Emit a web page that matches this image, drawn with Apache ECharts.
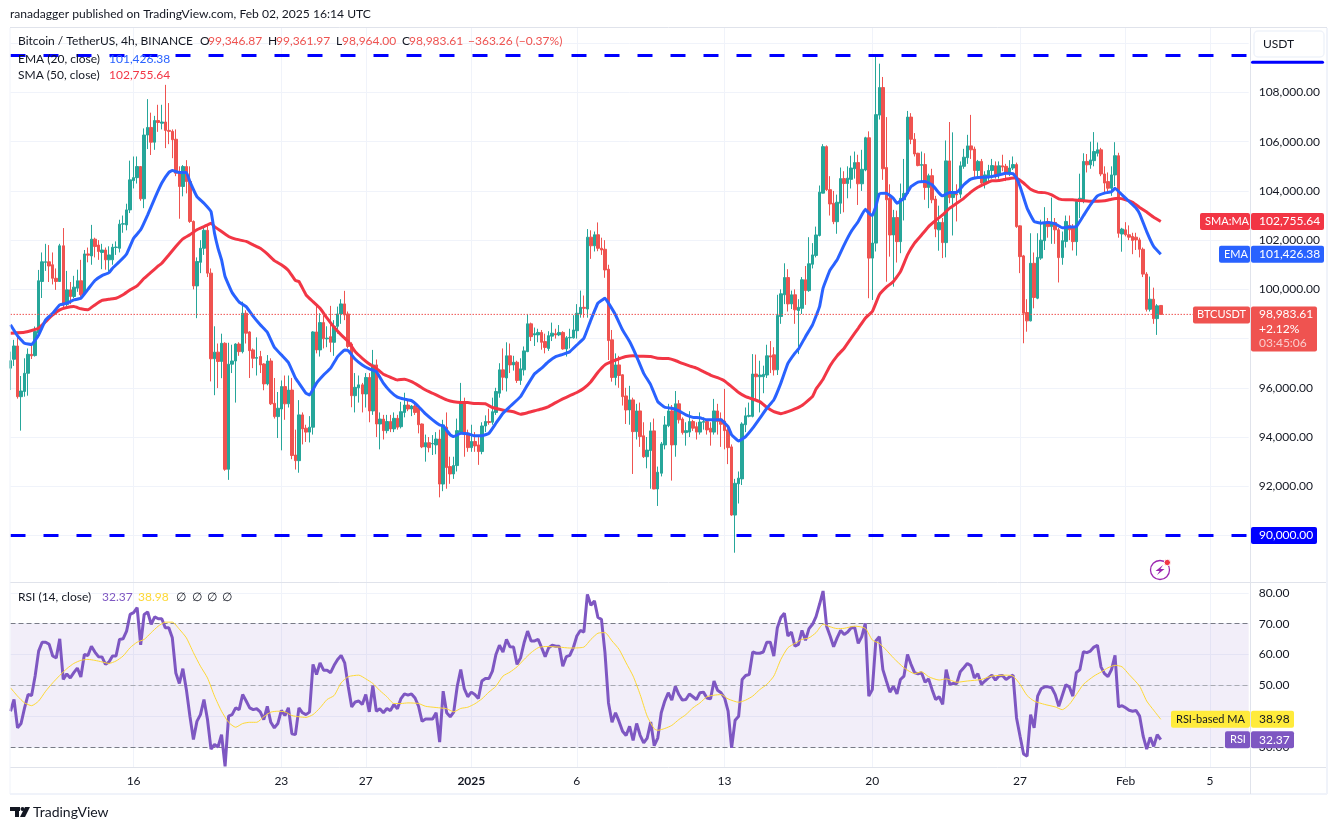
<!DOCTYPE html>
<html lang="en">
  <head>
    <meta charset="utf-8">
    <title>BTCUSDT 4h</title>
    <script src="https://cdn.jsdelivr.net/npm/echarts@6/dist/echarts.min.js"></script>
    <style>
      html, body { margin: 0; padding: 0; background: #fff; }
      #chart { width: 1338px; height: 830px; }
    </style>
    <script>
      // open, close, low, high in thousands, one row per 4h candle from Dec 10 04:00
      var raw = [
        [96.8,97.1,95.91,97.47],[97.16,97.7,96.89,97.95],[97.7,95.64,95.56,98.24],[95.64,95.87,94.26,96.48],[95.85,96.59,95.64,97.2],
        [96.59,97.36,95.68,97.6],[97.36,97.3,97.17,97.81],[97.31,98.29,97.27,98.49],[98.22,100.35,98.05,100.79],[100.32,101.12,99.65,101.5],
        [101.1,101.12,100.75,101.85],[101.12,100.95,100.3,101.8],[101.0,100.45,100.2,101.5],[100.45,100.32,99.98,100.85],[100.32,101.77,100.3,101.85],
        [101.77,99.37,99.25,102.49],[99.39,99.98,99.3,100.75],[99.98,99.71,99.4,100.3],[99.71,100.09,99.65,100.55],[100.05,100.35,99.9,100.8],
        [100.35,99.78,99.7,101.2],[99.85,101.44,99.8,101.6],[101.44,101.39,101.1,101.7],[101.36,102.04,101.0,102.62],[102.04,101.74,101.3,102.1],
        [101.8,101.54,101.2,102.0],[101.5,101.6,100.82,101.85],[101.6,101.2,100.8,101.7],[101.2,101.4,100.62,101.75],[101.2,101.71,101.0,101.85],
        [101.7,101.72,101.4,101.95],[101.67,102.65,101.5,102.83],[102.65,102.67,102.3,103.0],[102.62,103.23,102.4,103.48],[103.23,104.45,103.1,105.23],
        [104.42,104.54,104.1,105.4],[104.54,104.99,104.3,105.4],[104.99,103.68,103.6,105.0],[103.68,106.27,103.3,106.54],[106.27,106.58,105.7,107.73],
        [106.58,105.98,105.46,107.18],[105.98,106.86,105.67,107.05],[106.86,106.78,106.4,107.5],[106.75,106.8,106.5,107.5],[106.8,106.46,105.74,108.31],
        [106.46,106.42,105.9,107.57],[106.42,106.08,105.33,106.5],[106.1,104.72,104.6,106.5],[104.72,104.18,102.87,105.0],[104.18,104.99,103.78,105.05],
        [104.99,104.38,103.9,105.25],[104.38,102.76,102.7,105.0],[102.76,100.14,100.0,102.8],[100.14,101.13,98.83,101.3],[101.1,101.67,100.66,102.0],
        [101.67,102.4,101.4,102.55],[102.4,100.66,100.5,102.6],[100.66,97.18,96.26,100.85],[97.18,97.45,95.7,98.5],[97.45,97.07,95.99,97.8],
        [97.07,97.81,96.39,98.2],[97.81,92.69,92.63,97.85],[92.69,96.96,92.26,97.83],[96.96,97.09,96.6,97.75],[97.09,97.78,95.4,97.81],
        [97.78,97.47,97.3,97.85],[97.47,99.03,97.4,99.5],[99.03,98.22,97.8,99.15],[98.27,97.51,96.4,98.3],[97.54,97.2,96.8,97.6],
        [97.2,97.23,96.5,98.05],[97.27,96.93,96.6,97.5],[96.97,96.16,95.9,97.0],[96.16,97.09,96.1,97.33],[97.09,95.35,95.3,97.2],
        [95.37,94.83,94.75,96.4],[94.83,95.17,93.96,95.83],[95.14,96.05,93.46,96.3],[96.05,95.35,94.7,96.5],[95.35,95.91,95.2,96.5],
        [95.91,93.25,93.1,96.4],[93.27,93.04,92.68,94.3],[93.04,94.9,92.55,95.5],[94.9,94.33,93.7,95.0],[94.36,94.2,93.8,94.5],
        [94.2,94.4,93.78,94.85],[94.4,98.27,94.1,98.3],[98.27,97.54,97.4,99.41],[97.54,98.65,97.27,99.03],[98.65,97.99,97.6,98.95],
        [97.99,98.02,97.65,98.5],[98.08,97.85,97.45,99.33],[97.85,98.5,97.3,98.75],[98.5,99.0,98.2,99.3],[99.0,99.41,98.6,99.6],
        [99.41,98.96,98.75,99.94],[99.0,97.68,97.6,99.1],[97.78,95.68,95.21,97.85],[95.68,96.02,95.0,96.6],[96.0,96.12,95.4,96.5],
        [96.12,95.75,95.0,96.2],[95.75,96.42,95.2,96.6],[96.42,95.06,94.6,96.6],[95.06,96.93,94.9,97.54],[96.93,94.53,94.0,97.15],
        [94.53,94.73,93.5,95.0],[94.73,94.26,93.9,94.9],[94.26,94.63,94.15,94.9],[94.63,94.33,94.2,94.9],[94.33,94.76,94.2,95.0],
        [94.76,94.4,94.3,94.9],[94.42,95.03,94.35,95.43],[95.0,95.3,94.8,95.8],[95.3,95.14,95.05,95.5],[95.14,95.26,94.85,95.3],
        [95.26,95.0,94.9,95.35],[95.2,94.5,94.15,95.3],[94.53,93.6,93.55,94.55],[93.6,93.77,93.0,94.1],[93.77,93.57,93.38,94.0],
        [93.72,93.74,93.27,94.08],[93.68,93.92,93.3,94.2],[93.92,92.09,91.55,94.3],[92.09,94.49,91.8,94.7],[94.4,92.76,91.9,95.0],
        [92.8,92.5,92.1,93.2],[92.5,92.84,92.3,93.2],[92.84,94.26,92.6,94.75],[94.2,95.44,94.1,96.2],[95.44,94.15,93.2,95.6],
        [94.15,93.57,93.4,94.3],[93.57,93.82,93.4,94.5],[93.82,93.64,93.4,94.2],[93.68,93.41,92.87,94.0],[93.41,94.45,93.3,94.6],
        [94.45,94.63,94.2,94.88],[94.63,94.59,94.5,95.15],[94.6,95.03,94.5,95.6],[95.0,95.85,94.9,96.0],[95.78,96.73,95.6,97.0],
        [96.73,96.43,95.9,97.6],[96.4,97.3,95.85,97.85],[97.3,96.93,96.6,97.8],[96.93,97.04,96.7,97.3],[97.04,96.3,96.2,97.1],
        [96.3,96.77,96.12,97.2],[96.73,97.5,96.5,97.68],[97.47,98.6,97.45,99.0],[98.6,98.08,97.9,98.65],[98.15,98.2,97.7,98.45],
        [98.15,98.25,97.85,98.4],[98.25,97.85,97.55,98.35],[97.88,97.64,97.4,98.2],[97.6,98.12,97.5,98.3],[98.1,98.22,97.9,98.65],
        [98.2,98.15,98.0,98.4],[98.15,98.25,98.1,98.55],[98.25,97.58,97.55,98.3],[97.58,98.03,97.27,98.1],[98.03,98.05,97.6,98.4],
        [98.03,98.35,98.0,98.95],[98.32,99.03,98.0,99.4],[99.0,99.27,98.85,99.95],[99.27,99.23,98.85,99.75],[99.2,102.12,98.85,102.45],
        [102.12,101.77,101.24,102.4],[101.77,102.22,101.54,102.35],[102.22,101.67,101.55,102.72],[101.67,101.6,101.4,102.1],[101.63,100.79,100.47,102.0],
        [100.82,97.92,97.13,101.0],[97.95,96.42,96.25,98.35],[96.42,96.93,96.1,97.4],[96.93,96.5,96.0,97.3],[96.53,95.64,95.28,96.55],
        [95.67,95.1,94.53,96.0],[95.1,95.51,94.5,96.08],[95.51,94.22,92.5,95.6],[94.22,95.06,93.9,95.35],[95.06,94.02,93.6,95.4],
        [94.05,93.2,93.15,94.6],[93.2,93.47,92.73,94.0],[93.45,94.25,91.9,94.6],[94.25,91.89,91.88,94.75],[91.89,92.57,91.2,92.8],
        [92.53,93.72,92.4,93.8],[93.68,94.49,93.5,94.85],[94.46,95.06,94.4,95.35],[95.06,93.68,92.23,95.3],[93.68,95.35,93.2,95.87],
        [95.35,94.7,94.55,95.5],[94.73,94.18,94.1,94.8],[94.18,94.26,93.65,94.6],[94.2,94.63,94.0,95.05],[94.63,94.36,94.25,94.7],
        [94.42,94.2,93.9,94.6],[94.2,94.61,94.1,95.0],[94.6,94.63,94.3,94.8],[94.63,94.29,94.1,94.65],[94.36,94.2,93.65,94.6],
        [94.2,95.06,94.1,95.55],[95.06,94.63,94.1,95.35],[94.73,94.52,93.6,95.0],[94.65,94.26,93.5,95.96],[94.29,93.57,92.9,94.4],
        [93.6,90.83,90.8,93.7],[90.83,92.12,89.3,92.3],[92.1,92.33,91.3,92.6],[92.3,94.53,92.05,94.6],[94.5,94.86,94.2,95.2],
        [94.84,94.88,94.8,95.4],[94.84,96.56,94.8,97.37],[96.56,96.45,95.5,97.35],[96.45,96.52,95.0,97.1],[96.45,96.55,95.78,96.9],
        [96.52,97.3,96.4,97.75],[97.3,97.25,96.6,97.9],[97.34,96.73,96.5,97.65],[96.73,98.94,96.52,99.78],[98.9,99.82,98.6,100.0],
        [99.78,100.48,99.4,101.06],[100.48,99.41,99.1,100.82],[99.41,99.78,99.2,99.95],[99.78,99.17,98.6,100.0],[99.14,99.27,97.37,99.6],
        [99.23,100.39,99.0,100.5],[100.39,99.95,99.37,100.95],[99.95,101.04,99.9,102.12],[101.02,101.4,100.85,101.88],[101.38,102.21,101.3,102.55],
        [102.19,103.95,102.15,104.22],[103.91,105.8,103.9,105.9],[105.8,104.05,104.0,105.85],[104.05,103.47,103.0,104.6],[103.5,102.75,102.65,104.0],
        [102.75,103.54,102.26,103.85],[103.5,104.5,103.07,104.95],[104.5,104.3,103.13,104.8],[104.3,104.52,103.7,105.0],[104.47,104.93,104.1,105.43],
        [104.9,105.15,104.5,105.6],[105.15,104.29,103.43,105.47],[104.29,104.88,104.0,105.67],[104.85,106.16,104.8,106.2],[106.16,101.27,99.64,106.42],
        [101.27,101.88,99.57,103.0],[101.88,107.1,101.54,109.53],[107.08,108.2,106.9,109.17],[108.2,104.9,104.45,108.63],[104.95,103.64,100.31,107.0],
        [103.7,102.21,101.33,104.27],[102.21,102.92,100.11,103.23],[102.92,101.94,101.09,103.2],[101.94,103.7,101.47,104.3],[103.64,103.9,102.8,105.3],
        [103.9,107.0,103.85,107.25],[107.0,106.1,105.9,107.16],[106.1,105.5,105.4,106.35],[105.53,105.03,105.0,105.55],[105.04,105.07,104.4,105.6],
        [105.07,104.14,103.64,105.53],[104.14,104.62,103.3,104.7],[104.62,103.64,103.5,104.9],[103.67,102.45,102.12,103.8],[102.42,102.72,101.57,103.4],
        [102.72,101.9,101.27,102.9],[101.9,105.22,101.3,106.05],[105.22,103.73,103.5,106.8],[103.73,103.9,102.19,106.38],[103.88,103.84,102.76,104.27],
        [103.87,105.02,103.7,105.2],[105.0,105.37,104.9,105.71],[105.35,105.83,105.1,106.28],[105.83,105.67,105.3,107.09],[105.7,104.83,104.5,105.8],
        [104.83,105.2,104.5,105.26],[105.2,104.32,104.2,105.3],[104.3,104.65,104.1,104.8],[104.6,104.83,104.4,105.06],[104.83,105.03,104.5,105.3],
        [105.02,104.65,104.5,105.2],[104.65,105.02,104.5,105.2],[105.02,104.97,104.8,105.47],[105.0,104.75,104.4,105.1],[104.75,104.93,104.6,105.25],
        [104.93,105.07,104.85,105.4],[105.07,102.55,102.5,105.15],[102.58,101.33,100.66,102.6],[101.36,99.03,97.81,101.4],[99.06,98.72,98.28,99.6],
        [98.72,101.06,98.7,102.28],[101.06,99.67,99.23,101.5],[99.64,101.3,99.6,102.28],[101.27,102.0,101.2,102.83],[101.98,102.72,101.6,103.34],
        [102.75,102.55,102.1,102.9],[102.55,102.72,101.85,103.73],[102.72,102.42,101.85,102.9],[102.42,101.29,100.28,102.5],[101.29,101.98,101.0,102.35],
        [101.95,102.76,101.7,103.0],[102.6,102.42,102.0,103.0],[102.55,101.94,101.58,102.65],[101.94,103.57,101.37,103.6],[103.57,103.7,102.9,104.7],
        [103.64,105.2,103.5,105.53],[105.2,105.06,104.75,105.5],[105.06,105.26,104.9,106.0],[105.23,105.6,105.0,106.39],[105.53,105.67,105.4,105.97],
        [105.67,104.69,104.6,105.75],[104.69,104.32,103.9,105.0],[104.38,104.11,103.9,104.75],[104.11,104.65,103.8,105.0],[104.65,105.43,104.2,105.98],
        [105.43,102.28,102.1,105.55],[102.25,102.45,101.53,102.5],[102.42,102.22,102.15,102.73],[102.22,102.12,102.0,102.6],[102.15,101.99,101.43,102.3],
        [102.12,102.01,101.6,102.3],[102.01,101.63,101.3,102.1],[101.63,100.62,100.5,101.7],[100.62,99.19,99.1,100.7],[99.19,99.6,99.1,100.52],
        [99.6,98.81,98.6,100.07],[98.81,99.33,98.15,99.4],[99.347,98.984,98.964,99.362]
      ];

      var ema = [[0,98.56],[2,98.11],[4,97.81],[6,97.76],[8,98.15],[10,98.76],[12,99.03],[14,99.37],[16,99.44],[18,99.57],[20,99.64],[22,100.0],[24,100.36],[26,100.56],[28,100.68],[29,100.86],[31,101.13],[33,101.44],[35,102.08],[37,102.42],[39,103.03],[41,103.7],[43,104.32],[45,104.75],[46,104.83],[48,104.75],[50,104.75],[51,104.38],[53,103.77],[55,103.5],[56.5,103.16],[58,102.28],[59,101.67],[60,101.2],[61,100.52],[63,99.87],[65,99.48],[67,99.3],[69,98.9],[71,98.56],[73,98.26],[75,97.65],[77,97.34],[79,97.03],[81,96.4],[82,96.19],[84,95.78],[85,95.71],[87,96.19],[89,96.52],[91,96.8],[93,97.27],[95,97.54],[96,97.51],[98,97.16],[100,96.93],[102,96.77],[104,96.66],[106,96.19],[108,95.85],[110,95.62],[112,95.54],[114,95.48],[116,95.24],[118,94.94],[120,94.7],[122,94.49],[123,94.45],[125,94.09],[126,94.02],[128,94.15],[130,94.13],[132,94.05],[134,94.05],[136,94.15],[138,94.56],[140,94.97],[142,95.24],[145,95.64],[147,96.12],[149,96.57],[151,96.8],[153,97.07],[155,97.27],[157,97.36],[159,97.47],[161,97.74],[163,98.01],[165,98.76],[167,99.44],[169,99.64],[170,99.44],[172,98.96],[174,98.35],[176,97.88],[178,97.27],[180,96.59],[182,96.12],[184,95.44],[186,95.21],[188,95.17],[190,95.06],[192,94.9],[194,94.8],[196,94.78],[198,94.7],[200,94.7],[202,94.7],[204,94.42],[205,94.09],[207,93.84],[209,94.02],[211,94.36],[213,94.76],[215,95.17],[217,95.51],[219,96.19],[221,96.99],[223,97.41],[224,97.57],[226,98.08],[228,98.56],[230,99.3],[231,100.05],[233,100.79],[235,101.2],[237,101.81],[239,102.35],[241,102.76],[243,103.26],[244,103.1],[245,103.0],[246,103.37],[247,103.88],[249,103.91],[251,103.7],[252,103.5],[254,103.7],[256,104.18],[258,104.36],[260,104.38],[262,104.25],[264,103.91],[265,103.8],[267,103.94],[269,103.94],[271,104.25],[273,104.48],[275,104.55],[277,104.56],[279,104.59],[281,104.65],[283,104.72],[285,104.7],[286,104.52],[287,104.18],[289,103.3],[291,102.76],[293,102.69],[295,102.72],[297,102.66],[299,102.5],[301,102.53],[303,102.55],[305,102.99],[307,103.43],[309,103.8],[311,103.91],[313,103.97],[314,104.11],[316,103.84],[318,103.57],[320,103.3],[321,103.07],[323,102.35],[325,101.74],[327,101.426]];

      var sma = [[0,98.22],[4,98.26],[6,98.33],[8,98.42],[10,98.69],[12,98.96],[14,99.17],[16,99.26],[18,99.3],[20,99.21],[22,99.17],[24,99.37],[26,99.55],[28,99.6],[30,99.64],[32,99.78],[34,99.98],[36,100.14],[38,100.45],[40,100.7],[42,100.95],[43,101.06],[45,101.4],[47,101.74],[49,102.05],[51,102.22],[53,102.42],[55,102.55],[56.5,102.69],[58,102.55],[60,102.35],[62,102.15],[64,102.04],[67,101.95],[69,101.81],[71,101.67],[73,101.44],[75,101.17],[77,101.0],[79,100.77],[81,100.36],[82,100.32],[84,99.78],[86,99.5],[88,99.23],[90,98.83],[92,98.46],[94,98.15],[96,97.88],[98,97.47],[100,97.2],[102,96.97],[104,96.79],[106,96.55],[108,96.43],[110,96.32],[112,96.35],[114,96.25],[116,96.09],[118,95.91],[120,95.78],[122,95.64],[124,95.51],[126,95.43],[128,95.4],[130,95.4],[132,95.36],[135,95.35],[137,95.2],[139,95.13],[141,95.07],[143,95.03],[145,94.93],[147,94.99],[149,95.07],[151,95.14],[153,95.24],[155,95.4],[157,95.55],[159,95.68],[161,95.81],[163,95.98],[165,96.25],[167,96.63],[169,96.93],[171,97.07],[173,97.18],[175,97.27],[177,97.3],[179,97.28],[182,97.27],[184,97.2],[187,97.19],[189,97.11],[191,96.99],[193,96.89],[195,96.8],[197,96.66],[199,96.52],[201,96.41],[203,96.28],[205,96.05],[207,95.81],[209,95.64],[211,95.54],[213,95.44],[215,95.21],[217,95.03],[219,94.95],[221,95.03],[223,95.14],[225,95.28],[227.5,95.65],[229,95.95],[231,96.35],[233,96.9],[235,97.3],[237,97.61],[239,98.02],[241,98.42],[243,98.83],[245,99.1],[247,99.78],[249,100.09],[251,100.32],[253,100.72],[255,101.4],[257,101.88],[259,102.21],[261,102.55],[263,102.8],[265,103.03],[267,103.3],[269,103.5],[271,103.7],[273,103.95],[275,104.15],[277,104.29],[279,104.41],[281,104.42],[283,104.48],[285,104.53],[286,104.52],[288,104.32],[290,104.07],[292,103.95],[294,103.93],[296,103.84],[298,103.68],[300,103.64],[302,103.64],[304,103.61],[307,103.58],[311,103.6],[313,103.66],[315,103.7],[317,103.64],[319,103.54],[321,103.33],[323,103.14],[325,102.93],[327,102.756]];

      var rsi = [41.6,45.4,36.2,37.6,42.7,47,46.7,53,61.1,64,64,63.3,59.5,58.9,65.1,51.9,53.7,52.4,54.1,55.6,52.7,60,59.7,62.7,60.8,59.3,59.2,56.8,57.6,59.5,59.5,64.9,65.1,67.6,73,73.6,75.2,63.1,73,73.8,69.8,72.2,71.6,71.6,68.7,68.7,65.4,54,50.6,55.4,48.6,40,32.4,38.3,40.5,45.4,38.9,29.3,30.8,30,34,23.7,40,40.5,42.7,42.1,47,44.9,42.7,42.1,42.4,41.4,38.9,43.2,38,36.2,37.6,41.9,40.2,42.7,34.3,34,42.7,41.1,40.5,41.3,56.8,53.5,57.3,54.9,54.9,54.1,56.5,58.4,59.7,57.3,49.7,43,44.6,44.9,43.8,47,41.4,49.9,41.6,42.4,41.1,42.5,41.8,43.8,42.4,45.7,47.2,46.8,47.2,45.9,43.2,38.3,39.1,39.1,39.1,41.1,31.6,48.1,41.1,39.8,41.3,49.7,55.1,48.9,46.3,47.8,47,45.7,51.4,52.2,52.2,54.6,60,63,60.8,64.9,62.5,62.4,56.8,58.9,63.8,67.6,64.4,64.4,64.9,62.2,59.3,62.2,63,62.7,62.7,56.2,59.3,59.7,62.2,66,67.8,67.3,79.5,76,77.4,72,71.4,60.6,44.3,38,41.1,38.3,35.1,33.7,36.7,32.1,37.6,33.8,31.3,32.9,38.1,30.4,32.9,41.1,44.9,47.6,45.2,49.7,47,45.2,45.4,47.2,46.3,45.4,47.6,47.8,45.9,45.6,51.4,48.4,47.6,45.9,41.6,29.7,38.7,40,51.9,53.2,53.5,60.8,60.4,60.4,60.8,64,64,59.5,68.7,72,73.4,66,67.3,62.7,63.3,67.8,64.6,68.4,69.8,72.3,76.3,80.6,69.2,66,62.5,65.4,67.8,66.5,67.3,68.7,68.7,63.6,65.8,70.1,46.5,48.6,64.4,65.8,55.1,51.4,47.8,49.7,47.2,51.9,53,60,56.8,54.1,53.7,54.1,51,52.1,48.6,45.4,46.3,43.8,55.1,50.3,50.6,50.6,54.4,55.7,57.1,56.4,52.4,53.8,50.3,51.4,52.4,53.3,51.7,53,53.2,51.9,52.7,53.3,39.4,33.5,27.7,27,40.5,36.2,46.5,48.9,49.5,49.5,49.2,47,43.2,46.7,50.2,49.5,46.5,54.1,55.1,60.9,60.6,61.1,62.4,63,56,53.8,52.8,55.1,59.7,43,43.4,42.7,41.9,41.6,41.8,40,33.5,29.3,33.1,30.2,34,32.37];

      var rsi_ma = [[0,49.2],[2,46.5],[4,44.3],[6,43.4],[8,44.9],[10,48.1],[12,50.8],[14,53.2],[16,55.4],[18,57.1],[20,58.1],[22,58.4],[24,58.1],[26,57.6],[28,57.1],[30,57.9],[32,59.5],[34,62.2],[36,64],[38,64.9],[40,67.1],[42,69.2],[44,70.5],[46,70.5],[48,68.2],[50,65.4],[52,60.6],[54,56.2],[56,52.4],[58,46.5],[60,41.6],[62,38],[64,36.4],[66,37.6],[68,38],[70,38],[72,39.8],[74,41.3],[76,41.6],[78,41.4],[80,40.2],[82,39.8],[84,39.6],[86,40.5],[88,42.7],[90,45.4],[92,46.7],[94,50.8],[96,52.8],[99,53.3],[101,52.1],[103,50.6],[105,48.3],[107,46.3],[109,44.1],[111,44.1],[113,44.3],[116,44.1],[118,43.2],[121,42.8],[124,42.4],[126,41.4],[128,42.5],[130,42.9],[132,44],[134,45.6],[136,47.8],[138,49.7],[140,53],[142,54.3],[144,56],[146,58.4],[148,60.6],[150,62.2],[152,62.6],[156,62.4],[159,62.1],[163,62.4],[165,64.9],[167,66.9],[169,67.1],[171,64.4],[173,61.7],[175,57.3],[177,53],[179,47],[181,40],[183,35.9],[184,35.4],[186,36],[188,37],[190,38.9],[192,40.5],[194,42.7],[196,44.3],[198,46.3],[200,46.8],[202,47],[204,45.6],[207,44.5],[209,45.2],[211,46.5],[213,48.6],[215,50.3],[217,53],[219,58.4],[221,62.2],[223,63.6],[225,64.9],[227,65.4],[229,67.1],[231,69.8],[233,69],[235,68.4],[237,68.5],[240,69.2],[243,68.5],[245,64.7],[247,63.6],[249,61.4],[251,58.9],[254,55.7],[257,53.8],[259,54.4],[261,52.8],[264,51.7],[266,52.1],[269,51],[272,51.4],[276,51.9],[279,53],[283,53.3],[285,53],[287,50.3],[289,46.7],[291,44.9],[294,43.8],[297,43],[299,42.1],[301,43.8],[303,47],[305,50.3],[308,53],[310,54.3],[312,55.7],[314,56.5],[316,56],[318,53.5],[321,49.7],[323,44.9],[325,41.9],[327,38.98]];

      var tick_labels = {35:'16',77:'23',101:'27',131:'2025',161:'6',203:'13',245:'20',287:'27',317:'Feb',341:'5'};
      var TOTAL_SLOTS = 353;
      var UP = '#26a69a', DOWN = '#ef5350', GRID = '#f0f3fa', FRAME = '#e0e3eb', INK = '#131722';
      var FONT = 'Lato, "Open Sans", sans-serif';

      function is_tick(i){ return tick_labels[i] != null; }

      function money(v){
        return v.toLocaleString('en-US', {minimumFractionDigits: 2, maximumFractionDigits: 2});
      }

      function txt(x, y, s, color, size, weight){
        return {type: 'text', z: 50, style: {text: s, x: x, y: y, fill: color || INK, verticalAlign: 'middle',
          font: (weight || 'normal') + ' ' + (size || 12) + 'px ' + FONT}};
      }

      function box(x, y, w, h, color){
        return {type: 'rect', z: 40, shape: {x: x, y: y, width: w, height: h, r: 2}, style: {fill: color}};
      }

      function line(x1, y1, x2, y2, color, width){
        return {type: 'line', z: 30, shape: {x1: x1, y1: y1, x2: x2, y2: y2}, style: {stroke: color, lineWidth: width || 1}};
      }

      function flat_line(name, value, color, dash, width){
        return {name: name, type: 'line', xAxisIndex: 0, yAxisIndex: 0, symbol: 'none', silent: true, z: 6,
          data: [[0, value], [TOTAL_SLOTS - 1, value]], lineStyle: {color: color, width: width, type: dash}};
      }

      function init_chart(){
        var labels = [];
        for (var i = 0; i < TOTAL_SLOTS; i++) labels.push(tick_labels[i] || '');

        var candles = raw.map(function(r){ return [r[0]*1000, r[1]*1000, r[2]*1000, r[3]*1000]; });
        var to_price = function(p){ return [p[0], p[1]*1000]; };

        var price_ticks = [], rsi_ticks = [30,40,50,60,70,80];
        for (var v = 90000; v <= 110000; v += 2000) price_ticks.push(v);

        var myChart = echarts.init(document.getElementById('chart'), null, {renderer: 'canvas'});
        myChart.setOption({
          animation: false,
          backgroundColor: '#ffffff',
          grid: [
            {left: 10.5, top: 28, width: 1238.2, height: 554},
            {left: 10.5, top: 583, width: 1238.2, height: 184}
          ],
          xAxis: [
            {type: 'category', gridIndex: 0, data: labels, boundaryGap: false,
             axisLine: {show: false}, axisTick: {show: false}, axisLabel: {show: false},
             splitLine: {show: true, interval: is_tick, lineStyle: {color: GRID}}},
            {type: 'category', gridIndex: 1, data: labels, boundaryGap: false,
             axisLine: {show: false}, axisTick: {show: false},
             axisLabel: {interval: is_tick, color: INK, fontSize: 12, fontFamily: FONT, margin: 8,
               hideOverlap: false,
               formatter: function(s){ return s == '2025' ? '{b|2025}' : s; },
               rich: {b: {fontWeight: 'bold', fontSize: 12, fontFamily: FONT, color: INK}}},
             splitLine: {show: true, interval: is_tick, lineStyle: {color: GRID}}}
          ],
          yAxis: [
            {type: 'value', gridIndex: 0, position: 'right', min: 88110, max: 110620, scale: true,
             axisLine: {show: false}, axisTick: {show: false, customValues: price_ticks},
             axisLabel: {customValues: price_ticks.slice(0, 10), color: INK, fontSize: 12, fontFamily: FONT, margin: 10, formatter: money},
             splitLine: {show: true, lineStyle: {color: GRID}}},
            {type: 'value', gridIndex: 1, position: 'right', min: 23.5, max: 83.2, scale: true,
             axisLine: {show: false}, axisTick: {show: false, customValues: rsi_ticks},
             axisLabel: {customValues: rsi_ticks, color: INK, fontSize: 12, fontFamily: FONT, margin: 10, formatter: money},
             splitLine: {show: true, lineStyle: {color: GRID}}}
          ],
          series: [
            {name: 'BTCUSDT', type: 'candlestick', xAxisIndex: 0, yAxisIndex: 0, data: candles, barWidth: 3, z: 3,
             itemStyle: {color: UP, color0: DOWN, borderColor: UP, borderColor0: DOWN, borderWidth: 1}},
            {name: 'SMA', type: 'line', xAxisIndex: 0, yAxisIndex: 0, data: sma.map(to_price), symbol: 'none', smooth: 0.1, z: 4,
             lineStyle: {color: '#f23645', width: 3}},
            {name: 'EMA', type: 'line', xAxisIndex: 0, yAxisIndex: 0, data: ema.map(to_price), symbol: 'none', smooth: 0.1, z: 5,
             lineStyle: {color: '#2962ff', width: 3}},
            flat_line('top', 109500, '#0000ff', [15, 18], 3),
            flat_line('bottom', 90000, '#0000ff', [15, 18], 3),
            flat_line('last', 98983.61, '#ef5350', [1.5, 1.5], 1),
            {name: 'RSI', type: 'line', xAxisIndex: 1, yAxisIndex: 1, data: rsi, symbol: 'none', z: 5,
             lineStyle: {color: '#7e57c2', width: 3},
             markArea: {silent: true, itemStyle: {color: 'rgba(126,87,194,0.1)'}, data: [[{yAxis: 70}, {yAxis: 30}]]},
             markLine: {silent: true, symbol: 'none', label: {show: false},
               lineStyle: {type: [5, 3], width: 1, color: '#787b86'},
               data: [{yAxis: 70}, {yAxis: 30}, {yAxis: 50, lineStyle: {color: '#a9abb3'}}]}},
            {name: 'RSI MA', type: 'line', xAxisIndex: 1, yAxisIndex: 1, data: rsi_ma, symbol: 'none', smooth: 0.2, z: 6,
             lineStyle: {color: '#fdd835', width: 1}}
          ]
        });

        var price_y = function(v){ return myChart.convertToPixel({yAxisIndex: 0}, v); };
        var rsi_y = function(v){ return myChart.convertToPixel({yAxisIndex: 1}, v); };

        var g = [];
        // frame and pane separators
        g.push(line(10, 27.5, 1327, 27.5, FRAME));
        g.push(line(10, 582.5, 1327, 582.5, FRAME, 1));
        g.push(line(10, 767.5, 1327, 767.5, FRAME, 1));
        g.push(line(10, 794, 1327, 794, GRID, 2));
        g.push(line(1250.5, 28, 1250.5, 794, FRAME));
        g.push(line(1327, 28, 1327, 794, GRID, 2));
        g.push(line(10, 28, 10, 794, GRID, 1));

        g.push(txt(10, 14.5, 'ranadagger published on TradingView.com, Feb 02, 2025 16:14 UTC', INK, 12.1));
        g.push(txt(18, 41, 'Bitcoin / TetherUS, 4h, BINANCE', INK, 12));
        g.push(txt(200, 41, 'O', INK, 12));
        g.push(txt(208, 41, '99,346.87', DOWN, 12));
        g.push(txt(268, 41, 'H', INK, 12));
        g.push(txt(276, 41, '99,361.97', DOWN, 12));
        g.push(txt(336, 41, 'L', INK, 12));
        g.push(txt(342, 41, '98,964.00', DOWN, 12));
        g.push(txt(402, 41, 'C', INK, 12));
        g.push(txt(409, 41, '98,983.61', DOWN, 12));
        g.push(txt(468, 41, '\u2212363.26 (\u22120.37%)', DOWN, 12));
        g.push(txt(18, 59, 'EMA (20, close)', INK, 12));
        g.push(txt(109, 59, '101,426.38', '#2962ff', 12));
        g.push(txt(18, 75.5, 'SMA (50, close)', INK, 12));
        g.push(txt(109, 75.5, '102,755.64', '#f23645', 12));
        g.push(txt(18, 597.5, 'RSI (14, close)', INK, 12));
        g.push(txt(102, 597.5, '32.37', '#7e57c2', 12));
        g.push(txt(138, 597.5, '38.98', '#fdd835', 12));
        [176, 192, 207, 222].forEach(function(x){ g.push(txt(x, 597.5, '\u2205', INK, 12)); });

        // price scale tags
        g.push(box(1251, 60.7, 73, 3, '#0000ff'));
        g.push({type: 'rect', z: 40, shape: {x: 1254, y: 31, width: 70, height: 26, r: 4}, style: {fill: '#fff', stroke: GRID, lineWidth: 1.5}});
        g.push(txt(1263, 44.5, 'USDT', INK, 12));

        var y = price_y(102755.64);
        g.push(box(1200, y - 8.5, 50, 17, '#f23645'), box(1251, y - 8.5, 73, 17, '#f23645'));
        g.push(txt(1205, y, 'SMA:MA', '#fff', 11), txt(1259, y, '102,755.64', '#fff', 12));
        y = price_y(101426.38);
        g.push(box(1219, y - 8.5, 31, 17, '#2962ff'), box(1251, y - 8.5, 73, 17, '#2962ff'));
        g.push(txt(1224, y, 'EMA', '#fff', 11), txt(1259, y, '101,426.38', '#fff', 12));
        y = price_y(98983.61);
        g.push(box(1193, y - 8, 57, 17, DOWN), box(1251, y - 8, 66, 45, DOWN));
        g.push(txt(1197, y, 'BTCUSDT', '#fff', 11), txt(1259, y, '98,983.61', '#fff', 12));
        g.push(txt(1259, y + 15, '+2.12%', '#fff', 12), txt(1259, y + 29, '03:45:06', 'rgba(255,255,255,0.7)', 12));
        y = price_y(90000);
        g.push(box(1251, y - 8.5, 66, 17, '#0000ff'), txt(1259, y, '90,000.00', '#fff', 12));

        y = rsi_y(38.98);
        g.push(box(1171, y - 8.5, 79, 17, '#ffeb3b'), box(1251, y - 8.5, 43, 17, '#ffeb3b'));
        g.push(txt(1176, y, 'RSI-based MA', INK, 11), txt(1259, y, '38.98', INK, 12));
        y = rsi_y(32.37);
        g.push(box(1225, y - 8.5, 25, 17, '#7e57c2'), box(1251, y - 8.5, 43, 17, '#7e57c2'));
        g.push(txt(1230, y, 'RSI', '#fff', 11), txt(1259, y, '32.37', '#fff', 12));

        // TradingView mark
        g.push({type: 'rect', z: 40, shape: {x: 10, y: 807, width: 10, height: 4}, style: {fill: INK}});
        g.push({type: 'rect', z: 40, shape: {x: 15, y: 807, width: 4, height: 10}, style: {fill: INK}});
        g.push({type: 'circle', z: 40, shape: {cx: 22.5, cy: 809, r: 2}, style: {fill: INK}});
        g.push({type: 'polygon', z: 40, shape: {points: [[25, 807], [30, 807], [25, 817], [20, 817]]}, style: {fill: INK}});
        g.push(txt(33, 812, 'TradingView', INK, 14));

        // lightning badge
        g.push({type: 'circle', z: 40, shape: {cx: 1160, cy: 570, r: 9.5}, style: {fill: '#fff', stroke: '#9c27b0', lineWidth: 1.3}});
        g.push({type: 'polygon', z: 41, shape: {points: [[1163, 565], [1155.5, 571], [1159.5, 571], [1157, 575], [1164.5, 569], [1160.5, 569]]}, style: {fill: '#9c27b0'}});
        g.push({type: 'circle', z: 42, shape: {cx: 1167.3, cy: 562.5, r: 3.2}, style: {fill: '#f23645', stroke: '#fff', lineWidth: 1}});

        myChart.setOption({graphic: g});
      }

      window.onload = init_chart;
    </script>
  </head>
  <body>
    <div id="chart"></div>
  </body>
</html>
